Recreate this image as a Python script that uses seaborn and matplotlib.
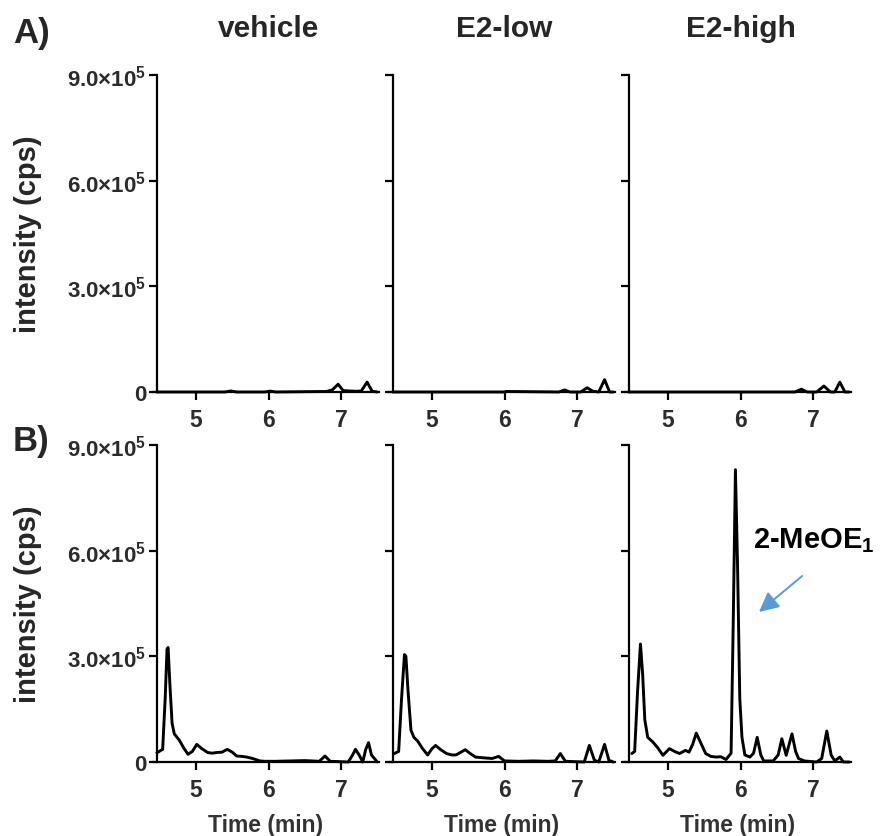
import numpy as np
import pandas as pd
import seaborn as sns
import matplotlib.pyplot as plt

# ---------------- data ----------------
conditions = ["vehicle", "E2-low", "E2-high"]
row_labels = ["A)", "B)"]
y_ticks = [0, 3.0e5, 6.0e5, 9.0e5]
y_tick_labels = ["0", r"3.0$\times$10$^{5}$", r"6.0$\times$10$^{5}$", r"9.0$\times$10$^{5}$"]
x_ticks = [5, 6, 7]

# Row A
veh_a_t = [4.46, 5.40, 5.48, 5.56, 5.95, 6.02, 6.10, 6.80, 6.88, 6.96, 7.03, 7.10, 7.22, 7.28, 7.36, 7.43, 7.50]
veh_a_y = [0, 0, 3000, 0, 0, 2500, 0, 1500, 6000, 22000, 4000, 3000, 2000, 3000, 28000, 2000, 0]
low_a_t = [4.46, 6.00, 6.02, 6.75, 6.83, 6.90, 7.05, 7.14, 7.22, 7.30, 7.38, 7.45, 7.50]
low_a_y = [0, 0, 1500, 0, 6000, 0, 0, 12000, 2000, 0, 35000, 0, 0]
high_a_t = [4.46, 6.75, 6.84, 6.92, 7.05, 7.15, 7.24, 7.30, 7.37, 7.44, 7.50]
high_a_y = [0, 0, 8000, 0, 0, 17000, 0, 0, 28000, 0, 0]

# Row B
veh_b_t = [4.46, 4.54, 4.575, 4.60, 4.615, 4.64, 4.67, 4.70, 4.77, 4.83, 4.89, 4.95, 5.01, 5.08,
           5.16, 5.22, 5.29, 5.36, 5.43, 5.50, 5.56, 5.63, 5.70, 5.78, 5.88, 5.95, 6.10, 6.30,
           6.50, 6.70, 6.78, 6.85, 7.10, 7.16, 7.20, 7.25, 7.30, 7.34, 7.38, 7.42, 7.50]
veh_b_y = [26000, 36000, 180000, 320000, 325000, 220000, 110000, 80000, 62000, 40000, 22000,
           30000, 50000, 38000, 27000, 25000, 27000, 28000, 36000, 28000, 17000, 16000, 14000,
           10000, 3000, 2000, 2000, 3000, 4000, 2000, 17000, 2000, 0, 20000, 36000, 20000, 0,
           35000, 55000, 20000, 0]
low_b_t = [4.48, 4.54, 4.58, 4.62, 4.64, 4.67, 4.71, 4.75, 4.80, 4.87, 4.94, 5.00, 5.05, 5.12,
           5.20, 5.27, 5.33, 5.40, 5.46, 5.52, 5.60, 5.70, 5.83, 5.92, 6.00, 6.20, 6.40, 6.60,
           6.70, 6.77, 6.84, 7.10, 7.17, 7.24, 7.30, 7.38, 7.44, 7.50]
low_b_y = [24000, 30000, 180000, 305000, 300000, 200000, 90000, 70000, 60000, 38000, 20000,
           38000, 47000, 35000, 24000, 20000, 20000, 28000, 35000, 25000, 14000, 12000, 10000,
           16000, 3000, 2000, 3000, 2000, 3000, 24000, 2000, 0, 47000, 5000, 0, 50000, 5000, 0]
high_b_t = [4.50, 4.54, 4.58, 4.62, 4.65, 4.68, 4.72, 4.79, 4.86, 4.93, 5.02, 5.09, 5.16, 5.24,
            5.29, 5.34, 5.39, 5.45, 5.52, 5.59, 5.66, 5.73, 5.80, 5.87, 5.90, 5.93, 5.96, 5.99,
            6.02, 6.06, 6.13, 6.18, 6.23, 6.28, 6.32, 6.45, 6.52, 6.57, 6.63, 6.71, 6.76, 6.80,
            6.88, 7.05, 7.12, 7.19, 7.25, 7.30, 7.37, 7.42, 7.50]
high_b_y = [24000, 30000, 200000, 335000, 250000, 120000, 70000, 57000, 40000, 19000, 38000,
            30000, 24000, 33000, 28000, 50000, 82000, 55000, 24000, 16000, 14000, 15000, 7000,
            25000, 400000, 830000, 550000, 180000, 70000, 20000, 14000, 25000, 70000, 20000,
            3000, 3000, 20000, 66000, 19000, 80000, 30000, 10000, 3000, 0, 10000, 88000, 20000,
            3000, 14000, 0, 0]

traces = [[(veh_a_t, veh_a_y), (low_a_t, low_a_y), (high_a_t, high_a_y)],
          [(veh_b_t, veh_b_y), (low_b_t, low_b_y), (high_b_t, high_b_y)]]

annot_text = "2-MeOE$_{1}$"

# ---------------- style ----------------
sns.set_theme(style="ticks")
plt.rcParams["font.family"] = ["Liberation Sans", "DejaVu Sans"]
plt.rcParams["font.weight"] = "bold"
plt.rcParams["mathtext.fontset"] = "custom"
plt.rcParams["mathtext.rm"] = "Liberation Sans:bold"
plt.rcParams["mathtext.it"] = "Liberation Sans:bold"
plt.rcParams["mathtext.bf"] = "Liberation Sans:bold"
plt.rcParams["mathtext.default"] = "rm"

W, H = 883, 837
fig = plt.figure(figsize=(W / 100, H / 100), dpi=100)

xlo, xhi = 4.40, 7.53
spine_x = 4.462
ppm = 72.5  # px per minute
col_spine_px = [157, 393, 629]
row_zero_px = [393, 763]
row_h_px = 317

tick_col = "#2b2b2b"

for r in range(2):
    for c in range(3):
        left_px = col_spine_px[c] - (spine_x - xlo) * ppm
        width_px = (xhi - xlo) * ppm
        bottom_px = row_zero_px[r]
        ax = fig.add_axes([left_px / W, 1 - bottom_px / H, width_px / W, row_h_px / H])
        t, y = traces[r][c]
        df = pd.DataFrame({"t": t, "y": y})
        sns.lineplot(data=df, x="t", y="y", ax=ax, color="black", lw=2.1,
                     sort=False, estimator=None)
        for ln in ax.lines:
            ln.set_clip_on(False)
            ln.set_solid_joinstyle("round")
        ax.set_xlim(xlo, xhi)
        ax.set_ylim(0, 9.0e5)
        ax.spines["top"].set_visible(False)
        ax.spines["right"].set_visible(False)
        ax.spines["left"].set_position(("data", spine_x))
        for s in ["left", "bottom"]:
            ax.spines[s].set_linewidth(1.6)
            ax.spines[s].set_color("black")
        ax.set_xticks(x_ticks)
        ax.set_xticklabels([str(v) for v in x_ticks], fontsize=16.5, fontweight="bold", color=tick_col)
        ax.set_yticks(y_ticks)
        if c == 0:
            ax.set_yticklabels(y_tick_labels, fontsize=16, fontweight="bold", color=tick_col)
        else:
            ax.set_yticklabels([])
        ax.tick_params(axis="both", direction="out", length=5.5, width=1.6, color="black")
        ax.tick_params(axis="x", pad=6)
        ax.tick_params(axis="y", pad=2)
        if r == 1:
            ax.set_xlabel("Time (min)", fontsize=16.5, fontweight="bold", color="#333333", labelpad=9)
        else:
            ax.set_xlabel("")
        ax.set_ylabel("")
        if r == 1 and c == 2:
            ax.annotate("", xy=(6.255, 4.26e5), xytext=(6.85, 5.28e5),
                        arrowprops=dict(arrowstyle="-|>,head_length=1.0,head_width=0.5",
                                        color="#5b9bd5", lw=1.4, shrinkA=0, shrinkB=0))
            ax.text(6.17, 6.3e5, annot_text, fontsize=21, fontweight="bold", color="black",
                    ha="left", va="center", clip_on=False)

# column titles
for c, name in enumerate(conditions):
    xc = col_spine_px[c] + (6 - spine_x) * ppm
    fig.text(xc / W, 1 - 29 / H, name, fontsize=21.5, fontweight="bold", ha="center", va="center")

# row labels and y labels
fig.text(13 / W, 1 - 33 / H, row_labels[0], fontsize=25, fontweight="bold", ha="left", va="center")
fig.text(13 / W, 1 - 442 / H, row_labels[1], fontsize=25, fontweight="bold", ha="left", va="center")
for yc in [234.5, 604.5]:
    fig.text(28 / W, 1 - yc / H, "intensity (cps)", fontsize=21, fontweight="bold",
             rotation=90, ha="center", va="center")

fig.savefig("out.png", dpi=100)
